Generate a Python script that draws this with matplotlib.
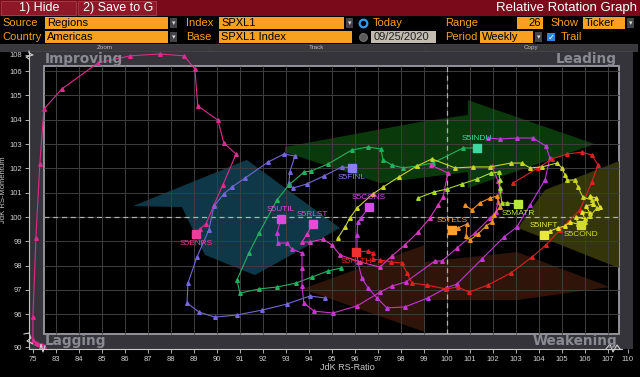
import numpy as np
import matplotlib
matplotlib.use('Agg')
import matplotlib.pyplot as plt
from matplotlib.patches import Rectangle, Polygon
from matplotlib.lines import Line2D

W, H = 640, 377
plt.rcParams['font.family'] = ['Liberation Sans', 'DejaVu Sans']

# ---- data: JdK RS-Ratio (x) / RS-Momentum (y), oldest -> newest ----
ENRS_RATIO = [82.17, 80.85, 78.26, 76.96, 75.0, 75.0, 76.96, 79.5, 82.17, 83.26, 84.83, 86.22,
              87.52, 88.57, 89.04, 89.17, 90.04, 90.30, 90.83, 90.26, 89.87, 89.52, 89.26, 89.09]
ENRS_MOM = [90.38, 90.76, 91.13, 91.51, 92.74, 95.88, 99.14, 102.18, 104.44, 105.27, 106.74, 107.85,
            108.15, 107.85, 106.09, 104.57, 103.99, 103.05, 102.59, 101.32, 100.49, 99.71, 99.51, 99.30]

FINL_RATIO = [94.70, 94.04, 93.04, 91.96, 90.87, 89.91, 89.22, 88.70, 88.74, 89.13, 89.65, 89.87, 90.30,
              90.65, 91.22, 92.22, 92.91, 93.39, 93.17, 93.13, 93.30, 93.91, 94.65, 95.43, 95.87]
FINL_MOM = [96.67, 96.75, 96.42, 96.17, 95.97, 95.88, 96.09, 96.46, 97.28, 98.35, 99.47, 100.45, 100.95,
            101.23, 101.60, 102.26, 102.59, 102.51, 101.85, 101.40, 101.19, 101.36, 101.69, 102.06, 102.02]

INDU_RATIO = [95.39, 94.83, 94.13, 93.43, 92.61, 91.83, 91.00, 90.87, 91.39, 91.83, 92.61, 93.13, 93.78,
              94.09, 94.83, 95.87, 96.57, 97.13, 97.22, 97.61, 98.09, 98.70, 99.39, 100.70, 101.30]
INDU_MOM = [97.90, 97.78, 97.53, 97.28, 97.12, 97.04, 96.87, 97.41, 98.52, 99.34, 100.70, 101.32, 101.85,
            101.89, 102.18, 102.76, 102.88, 102.80, 102.35, 102.14, 102.02, 102.10, 102.22, 102.84, 102.84]

UTIL_RATIO = [101.96, 102.22, 102.30, 102.22, 102.13, 101.87, 101.22, 100.43, 99.78, 99.48, 98.22, 97.61,
              97.09, 96.09, 95.04, 94.22, 93.78, 93.70, 93.70, 93.70, 93.26, 93.04, 92.65, 92.61, 92.78]
UTIL_MOM = [102.10, 101.48, 101.11, 100.62, 100.21, 99.96, 99.34, 98.72, 98.19, 98.19, 97.33, 97.16,
            96.91, 96.34, 96.05, 96.13, 96.46, 97.16, 97.90, 98.52, 98.68, 98.93, 98.93, 99.34, 99.92]

CONS_RATIO = [101.78, 102.30, 103.04, 103.74, 104.30, 104.48, 104.26, 103.61, 103.04, 102.48, 101.52,
              100.43, 99.96, 99.17, 98.17, 97.39, 96.96, 96.57, 96.30, 96.13, 96.09, 96.09, 96.13, 96.26, 96.61]
CONS_MOM = [103.25, 103.21, 103.25, 103.25, 102.92, 102.43, 101.52, 100.49, 99.59, 99.18, 98.27,
            97.24, 97.08, 96.67, 96.30, 96.26, 96.67, 97.08, 97.49, 98.15, 98.64, 99.26, 99.79, 99.96, 100.41]

RLST_RATIO = [99.30, 100.04, 99.83, 99.61, 99.26, 98.74, 98.17, 97.61, 97.09, 96.22, 95.35, 95.00,
              94.61, 94.04, 93.70, 93.91, 94.17]
RLST_MOM = [102.14, 101.81, 100.82, 100.49, 99.96, 99.38, 98.85, 98.40, 97.94, 98.15, 98.44, 98.85,
            99.09, 98.97, 98.97, 99.30, 99.71]

HLTH_RATIO = [102.87, 103.96, 104.57, 105.22, 105.87, 106.30, 106.57, 106.30, 105.78, 105.26, 104.91,
              104.30, 103.70, 102.78, 101.78, 100.96, 100.48, 99.96, 99.13, 98.48, 98.26, 98.04, 97.57,
              97.09, 96.78, 96.78, 96.57, 96.04]
HLTH_MOM = [101.40, 102.02, 102.39, 102.59, 102.67, 102.55, 102.14, 101.44, 100.29, 99.79, 99.47,
            98.85, 98.35, 97.70, 97.20, 96.91, 97.12, 97.04, 97.20, 97.28, 97.70, 98.11, 98.15,
            98.23, 98.27, 98.52, 98.60, 98.56]

TELS_RATIO = [100.78, 101.09, 101.43, 101.87, 102.17, 102.30, 102.04, 101.96, 101.70, 101.35, 101.00,
              100.83, 100.87, 100.48, 100.22]
TELS_MOM = [100.49, 100.29, 100.58, 100.78, 100.86, 100.41, 100.08, 99.79, 99.63, 99.30, 99.05,
            99.22, 99.71, 99.55, 99.47]

MATR_RATIO = [98.74, 99.43, 100.00, 100.65, 101.30, 101.91, 102.26, 102.30, 102.30, 102.39, 102.61, 103.09]
MATR_MOM = [100.78, 101.03, 101.15, 101.36, 101.56, 101.81, 101.85, 101.52, 101.19, 100.58, 100.58, 100.53]

INFT_RATIO = [106.65, 106.48, 106.22, 106.35, 106.04, 106.22, 105.87, 106.00, 105.61, 105.70, 105.35,
              105.13, 104.83, 104.48, 104.22]
INFT_MOM = [100.41, 100.78, 100.86, 100.53, 100.45, 100.16, 100.21, 99.92, 100.00, 99.71, 99.79,
            99.63, 99.55, 99.42, 99.26]

COND_RATIO = [95.26, 95.57, 95.78, 96.09, 96.78, 97.22, 97.91, 98.70, 99.35, 100.35, 101.13, 101.87,
              102.78, 103.26, 103.61, 104.13, 104.78, 105.00, 105.13, 105.22, 105.57, 105.70, 105.91,
              106.30, 106.52, 106.22, 106.00, 105.83]
COND_MOM = [99.14, 99.59, 99.96, 100.37, 100.95, 101.23, 101.65, 102.10, 102.39, 102.02, 102.06, 102.06,
            102.22, 102.22, 102.02, 102.06, 102.22, 102.02, 101.73, 101.52, 101.52, 101.23, 100.82,
            100.70, 100.37, 100.04, 99.79, 99.67]

SECTORS = [
    ('S5ENRS', ENRS_RATIO, ENRS_MOM),
    ('S5FINL', FINL_RATIO, FINL_MOM),
    ('S5INDU', INDU_RATIO, INDU_MOM),
    ('S5UTIL', UTIL_RATIO, UTIL_MOM),
    ('S5CONS', CONS_RATIO, CONS_MOM),
    ('S5RLST', RLST_RATIO, RLST_MOM),
    ('S5HLTH', HLTH_RATIO, HLTH_MOM),
    ('S5TELS', TELS_RATIO, TELS_MOM),
    ('S5MATR', MATR_RATIO, MATR_MOM),
    ('S5INFT', INFT_RATIO, INFT_MOM),
    ('S5COND', COND_RATIO, COND_MOM),
]

X_TICKS = [75] + list(range(83, 108)) + [110]
Y_TICKS = [90] + list(range(96, 107)) + [108]

# line colour, label colour, label above (+1) or below (-1) the square
STYLE = {
    'S5ENRS': ('#e02a8e', '#e8409a', -1),
    'S5FINL': ('#7466d8', '#8a7ef0', -1),
    'S5INDU': ('#22b060', '#40d8a0', 1),
    'S5UTIL': ('#cc34cc', '#e048e0', 1),
    'S5CONS': ('#c038d8', '#d84ce8', 1),
    'S5RLST': ('#d838c0', '#e84cd0', 1),
    'S5HLTH': ('#e02020', '#f03030', -1),
    'S5TELS': ('#f09020', '#f8a030', 1),
    'S5MATR': ('#a8d828', '#b8e840', -1),
    'S5INFT': ('#e0e028', '#e8e840', 1),
    'S5COND': ('#c8d424', '#d0dc30', -1),
}

# ---- broken axes: squeezed outer ranges ----
XB_DATA = [60, 75, 82.5, 107.5, 110, 125]
XB_MAP = [81.0, 82.0, 82.5, 107.5, 107.87, 110.1]
YB_DATA = [80, 90, 95.2, 106.2, 108, 115]
YB_MAP = [93.6, 94.65, 95.2, 106.2, 106.67, 108.5]


def fx(v):
    return np.interp(v, XB_DATA, XB_MAP)


def ix(v):
    return np.interp(v, XB_MAP, XB_DATA)


def fy(v):
    return np.interp(v, YB_DATA, YB_MAP)


def iy(v):
    return np.interp(v, YB_MAP, YB_DATA)


fig = plt.figure(figsize=(6.4, 3.77), dpi=100, facecolor='black')


def frect(x0, y0, x1, y1, fc, ec='none', lw=0.0):
    fig.add_artist(Rectangle((x0 / W, 1 - y1 / H), (x1 - x0) / W, (y1 - y0) / H,
                             transform=fig.transFigure, facecolor=fc, edgecolor=ec, linewidth=lw))


def ftext(x, y, s, **kw):
    kw.setdefault('va', 'center')
    fig.text(x / W, 1 - y / H, s, **kw)


def fmark(x, y, **kw):
    fig.add_artist(Line2D([x / W], [1 - y / H], transform=fig.transFigure, **kw))


def fline(pts, **kw):
    fig.add_artist(Line2D([p[0] / W for p in pts], [1 - p[1] / H for p in pts],
                          transform=fig.transFigure, **kw))


def dropdown(x, y):
    frect(x, y - 5, x + 7, y + 5, '#444448')
    ftext(x + 3.5, y, '\u25be', ha='center', color='#dddddd', fontsize=5, family='DejaVu Sans')


# ---- header ----
ORANGE = '#f8a11e'
FS = 8
frect(0, 0, 640, 16, '#7a0a1a')
frect(1, 1, 76, 15, '#8e1828', ec='#a8404c', lw=0.6)
frect(78, 1, 156, 15, '#8e1828', ec='#a8404c', lw=0.6)
ftext(39, 8, '1) Hide', ha='center', color='white', fontsize=9)
ftext(118, 8, '2) Save to G', ha='center', color='white', fontsize=9)
ftext(637, 8, 'Relative Rotation Graph', ha='right', color='white', fontsize=9.5)

for y, lab, val in [(23, 'Source', 'Regions'), (37, 'Country', 'Americas')]:
    ftext(2, y, lab, color=ORANGE, fontsize=FS)
    frect(45, y - 6, 168, y + 6, ORANGE)
    ftext(47, y, val, color='black', fontsize=FS)
    dropdown(170, y)

ftext(186, 23, 'Index', color=ORANGE, fontsize=FS)
frect(219, 17, 344, 29, ORANGE)
ftext(221, 23, 'SPXL1', color='black', fontsize=FS)
dropdown(346, 23)
ftext(186, 37, 'Base', color=ORANGE, fontsize=FS)
frect(219, 31, 352, 43, ORANGE)
ftext(221, 37, 'SPXL1 Index', color='black', fontsize=FS)

fmark(363, 23, marker='o', ms=5.5, mfc='black', mec='#2f9cf0', mew=1.6)
ftext(373, 23, 'Today', color=ORANGE, fontsize=FS)
fmark(363, 37, marker='o', ms=5.5, mfc='#5a5a5a', mec='#6a6a6a', mew=1)
frect(371, 31, 436, 43, '#c2bcb0')
ftext(374, 37, '09/25/2020', color='#202020', fontsize=FS)

ftext(445, 23, 'Range', color=ORANGE, fontsize=FS)
frect(517, 17, 543, 29, ORANGE)
ftext(541, 23, '26', ha='right', color='black', fontsize=FS)
ftext(550, 23, 'Show', color=ORANGE, fontsize=FS)
frect(583, 17, 625, 29, ORANGE)
ftext(585, 23, 'Ticker', color='black', fontsize=FS)
dropdown(627, 23)

ftext(445, 37, 'Period', color=ORANGE, fontsize=FS)
frect(480, 31, 533, 43, ORANGE)
ftext(482, 37, 'Weekly', color='black', fontsize=FS)
dropdown(535, 37)
frect(547, 33, 555, 41, '#2a86e0')
ftext(551, 37, '\u2713', ha='center', color='white', fontsize=6, family='DejaVu Sans')
ftext(561, 37, 'Trail', color=ORANGE, fontsize=FS)

for x0, x1, lab in [(0, 209, 'Zoom'), (210, 424, 'Track'), (425, 637, 'Copy')]:
    frect(x0, 44, x1, 51, '#38383d', ec='#4a4a50', lw=0.5)
    ftext((x0 + x1) / 2, 47.5, lab, ha='center', color='#c0c0c0', fontsize=4.5)

# ---- chart ----
ax = fig.add_axes([29 / W, (H - 349) / H, (633 - 29) / W, (349 - 51) / H])
ax.set_facecolor('#34343a')
ax.set_xscale('function', functions=(fx, ix))
ax.set_yscale('function', functions=(fy, iy))
ax.set_xlim(ix(81.83), ix(108.09))
ax.set_ylim(iy(94.57), iy(106.83))

inner = Rectangle((82.5, 95.2), 25, 11, facecolor='black', edgecolor='#9c9ca2', lw=1.3, zorder=0.5)
ax.add_patch(inner)

# rotation arrows in the background
arrows = [
    ([(86.35, 100.45), (91.30, 102.35), (95.35, 99.55), (91.65, 97.61), (89.48, 98.44), (88.48, 100.41)],
     '#0e3848'),
    ([(92.96, 102.88), (98.83, 103.91), (100.91, 104.20), (100.91, 104.81), (106.43, 103.00),
      (100.91, 101.19), (100.91, 101.85), (97.09, 101.40), (92.96, 102.67)], '#0a3a0c'),
    ([(103.09, 99.55), (104.26, 101.11), (107.48, 102.30), (107.48, 97.90)], '#35350a'),
    ([(93.70, 97.04), (99.04, 98.85), (99.04, 98.15), (103.04, 98.56), (107.09, 97.12),
      (103.04, 96.58), (99.04, 96.58), (99.04, 95.27)], '#2e1409'),
]
for pts, col in arrows:
    ax.add_patch(Polygon(pts, closed=True, facecolor=col, edgecolor='none', zorder=0.8))

ax.vlines(np.arange(83, 108), 95.2, 106.2, color='#3e3e3e', lw=0.7, zorder=1)
ax.hlines(np.arange(96, 107), 82.5, 107.5, color='#3e3e3e', lw=0.7, zorder=1)
ax.vlines([100], 95.2, 106.2, color='#b0b0b0', lw=0.9, linestyles=(0, (4, 3)), zorder=2)
ax.hlines([100], 82.5, 107.5, color='#b0b0b0', lw=0.9, linestyles=(0, (4, 3)), zorder=2)

for name, xs, ys in SECTORS:
    col, lcol, side = STYLE[name]
    ax.plot(xs, ys, color=col, lw=0.8, marker='^', ms=2.6, mec=col, mfc=col, zorder=5)
    ax.plot(xs[-1], ys[-1], marker='s', ms=5.5, color=lcol, zorder=6)
    ax.annotate(name, (xs[-1], ys[-1]), xytext=(0, 4.5 * side), textcoords='offset points',
                ha='center', va='bottom' if side > 0 else 'top', color=lcol, fontsize=6, zorder=7)

for s in ['top', 'right']:
    ax.spines[s].set_visible(False)
for s in ['bottom', 'left']:
    ax.spines[s].set_color('#c8c8c8')
    ax.spines[s].set_linewidth(0.8)
ax.spines['bottom'].set_bounds(ax.get_xlim()[0], ix(107.6))
ax.set_xticks(X_TICKS)
ax.set_yticks(Y_TICKS)
ax.set_xticklabels([str(v) for v in X_TICKS])
ax.set_yticklabels([str(v) for v in Y_TICKS])
ax.tick_params(colors='#c8c8c8', labelcolor='#d0d0d0', labelsize=5.5, length=3, width=0.6, pad=2)

# axis break marks
BRK = dict(color='#d0d0d0', lw=0.8)
fline([(29, 51), (29, 53), (33, 55), (26, 57), (29, 59)], **BRK)
fline([(24, 334), (29, 333), (31, 338), (27, 341), (33, 344)], **BRK)
fline([(40, 349), (41, 344), (43, 352), (45, 346)], **BRK)
fline([(606, 349), (610, 344), (613, 352), (617, 345), (620, 349)], **BRK)

QL = dict(color='#8a8a92', fontsize=9.8, fontweight='bold', family='DejaVu Sans')
ftext(45, 59, 'Improving', **QL)
ftext(617, 59, 'Leading', ha='right', **QL)
ftext(45, 341, 'Lagging', **QL)
ftext(617, 341, 'Weakening', ha='right', **QL)

ftext(347, 368, 'JdK RS-Ratio', ha='center', color='#c8c8c8', fontsize=6.5)
ftext(4, 190, 'JdK RS-Momentum', ha='center', rotation=90, color='#c8c8c8', fontsize=5.5)

fig.savefig('out.png', dpi=100, facecolor='black')
